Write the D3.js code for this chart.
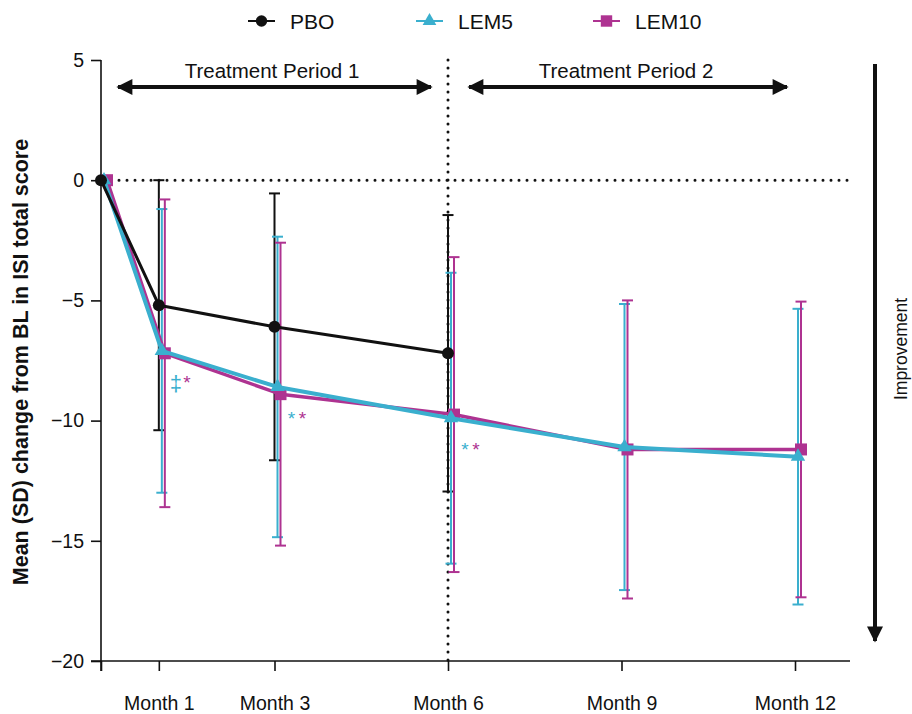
<!DOCTYPE html>
<html>
<head>
<meta charset="utf-8">
<script src="https://cdn.jsdelivr.net/npm/d3@7"></script>
<style>
  body { margin: 0; background: #fff; }
  svg { font-family: "Liberation Sans", Arial, sans-serif; }
</style>
</head>
<body>
<div id="chart"></div>
<script>
// months on the x axis (0 = baseline)
const months = [0, 1, 3, 6, 9, 12];
const monthLabels = ["", "Month 1", "Month 3", "Month 6", "Month 9", "Month 12"];
const yTicks = [5, 0, -5, -10, -15, -20];

// mean change and SD per group
const pboMonths = [0, 1, 3, 6];
const pboMean = [0, -5.2, -6.1, -7.2];
const pboSD = [0, 5.2, 5.55, 5.75];

const lem5Months = [0, 1, 3, 6, 9, 12];
const lem5Mean = [0, -7.1, -8.6, -9.9, -11.1, -11.5];
const lem5SD = [0, 5.9, 6.25, 6.05, 5.95, 6.15];

const lem10Months = [0, 1, 3, 6, 9, 12];
const lem10Mean = [0, -7.2, -8.9, -9.75, -11.2, -11.2];
const lem10SD = [0, 6.4, 6.3, 6.55, 6.2, 6.15];

// significance markers
const sigMonths = [1, 3, 6];
const sigLem5 = ["\u2021", "*", "*"];
const sigLem10 = ["*", "*", "*"];

const width = 912, height = 714;
const svg = d3.select('#chart').append('svg')
  .attr('width', width)
  .attr('height', height);

const x = d3.scaleLinear().domain([0, 12]).range([101, 795]);
const y = d3.scaleLinear().domain([-20, 5]).range([661, 60]);

const groups = [
  { name: 'PBO', months: pboMonths, mean: pboMean, sd: pboSD, color: '#111111', dx: 0, shape: 'circle', lw: 3 },
  { name: 'LEM5', months: lem5Months, mean: lem5Mean, sd: lem5SD, color: '#3AAFCE', dx: 3, shape: 'triangle', lw: 4 },
  { name: 'LEM10', months: lem10Months, mean: lem10Mean, sd: lem10SD, color: '#AE3391', dx: 6, shape: 'square', lw: 3.5 }
];

// axes
const yAxis = svg.append('g')
  .attr('transform', `translate(${x(0)},0)`)
  .call(d3.axisLeft(y).tickValues(yTicks).tickSize(10).tickSizeOuter(0).tickPadding(7));
yAxis.select('.domain').attr('d', `M0,${y(5)}V${y(-20) + 10}`);

const xAxis = svg.append('g')
  .attr('transform', `translate(0,${y(-20)})`)
  .call(d3.axisBottom(x).tickValues(months).tickFormat((d, i) => monthLabels[i])
    .tickSize(10).tickSizeOuter(0).tickPadding(25));
xAxis.select('.domain').attr('d', `M${x(0) - 10},0H850`);

svg.selectAll('.tick text').attr('font-size', 19.5).attr('fill', '#111')
  .attr('font-family', '"Liberation Sans", Arial, sans-serif');
svg.selectAll('.tick line, .domain').attr('stroke', '#111').attr('stroke-width', 1.6);

// reference lines
svg.append('line')
  .attr('x1', x(0) + 10).attr('x2', 850)
  .attr('y1', y(0)).attr('y2', y(0))
  .attr('stroke', '#111').attr('stroke-width', 3)
  .attr('stroke-linecap', 'round').attr('stroke-dasharray', '0 8');
svg.append('line')
  .attr('x1', x(6)).attr('x2', x(6))
  .attr('y1', y(5)).attr('y2', y(-20))
  .attr('stroke', '#111').attr('stroke-width', 3)
  .attr('stroke-linecap', 'round').attr('stroke-dasharray', '0 8');

// arrows
const defs = svg.append('defs');
defs.append('marker')
  .attr('id', 'head').attr('viewBox', '0 0 10 10')
  .attr('refX', 9).attr('refY', 5)
  .attr('markerWidth', 21).attr('markerHeight', 16)
  .attr('markerUnits', 'userSpaceOnUse')
  .attr('orient', 'auto-start-reverse')
  .append('path').attr('d', 'M0,0L10,5L0,10Z').attr('fill', '#111');

function arrow(x1, y1, x2, y2, both) {
  const l = svg.append('line')
    .attr('x1', x1).attr('y1', y1).attr('x2', x2).attr('y2', y2)
    .attr('stroke', '#111').attr('stroke-width', 4)
    .attr('marker-end', 'url(#head)');
  if (both) l.attr('marker-start', 'url(#head)');
}
arrow(118, 87, 431, 87, true);
arrow(469, 87, 787, 87, true);
arrow(875, 64, 875, 641, false);

svg.append('text').attr('x', 272).attr('y', 78).attr('text-anchor', 'middle')
  .attr('font-size', 20.5).attr('fill', '#111').text('Treatment Period 1');
svg.append('text').attr('x', 626).attr('y', 78).attr('text-anchor', 'middle')
  .attr('font-size', 20.5).attr('fill', '#111').text('Treatment Period 2');

svg.append('text')
  .attr('transform', `translate(907,${349}) rotate(-90)`)
  .attr('text-anchor', 'middle')
  .attr('font-size', 17.5).attr('fill', '#111').text('Improvement');

svg.append('text')
  .attr('transform', `translate(28,${362}) rotate(-90)`)
  .attr('text-anchor', 'middle')
  .attr('font-size', 21.5).attr('font-weight', 'bold').attr('fill', '#111')
  .text('Mean (SD) change from BL in ISI total score');

// markers
function drawMarker(g, shape, color, cx, cy, scale) {
  if (shape === 'circle') {
    g.append('circle').attr('cx', cx).attr('cy', cy).attr('r', 6 * scale).attr('fill', color);
  } else if (shape === 'triangle') {
    g.append('path').attr('d', d3.symbol().type(d3.symbolTriangle).size(90 * scale * scale)())
      .attr('transform', `translate(${cx},${cy})`).attr('fill', color);
  } else {
    const s = 12 * scale;
    g.append('rect').attr('x', cx - s / 2).attr('y', cy - s / 2)
      .attr('width', s).attr('height', s).attr('fill', color);
  }
}

// error bars
groups.forEach(gr => {
  const g = svg.append('g');
  gr.months.forEach((m, i) => {
    if (gr.sd[i] === 0) return;
    const cx = x(m) + gr.dx;
    const top = y(gr.mean[i] + gr.sd[i]);
    const bot = y(gr.mean[i] - gr.sd[i]);
    g.append('line').attr('x1', cx).attr('x2', cx).attr('y1', top).attr('y2', bot)
      .attr('stroke', gr.color).attr('stroke-width', 2);
    [top, bot].forEach(v => g.append('line')
      .attr('x1', cx - 5.5).attr('x2', cx + 5.5).attr('y1', v).attr('y2', v)
      .attr('stroke', gr.color).attr('stroke-width', 2));
  });
});

// lines and points (LEM10, LEM5 under PBO)
[groups[2], groups[1], groups[0]].forEach(gr => {
  const pts = gr.months.map((m, i) => [x(m) + gr.dx, y(gr.mean[i])]);
  const g = svg.append('g');
  g.append('path').attr('d', d3.line()(pts))
    .attr('fill', 'none').attr('stroke', gr.color).attr('stroke-width', gr.lw)
    .attr('stroke-linejoin', 'round');
  pts.forEach(p => drawMarker(g, gr.shape, gr.color, p[0], p[1], 1));
});

// significance symbols
sigMonths.forEach((m, i) => {
  const idx = lem5Months.indexOf(m);
  const yy = y(lem5Mean[idx]) + 38;
  const xx = x(m) + 17;
  const dagger = sigLem5[i] !== '*';
  svg.append('text').attr('x', xx).attr('y', dagger ? yy + 2 : yy).attr('font-size', dagger ? 22 : 19)
    .attr('text-anchor', 'middle').attr('fill', groups[1].color).text(sigLem5[i]);
  svg.append('text').attr('x', xx + 11).attr('y', yy).attr('font-size', 19)
    .attr('text-anchor', 'middle').attr('fill', groups[2].color).text(sigLem10[i]);
});

// legend
const legend = svg.append('g');
const legendX = [248, 416, 593];
groups.forEach((gr, i) => {
  const lx = legendX[i];
  legend.append('line').attr('x1', lx).attr('x2', lx + 27).attr('y1', 21).attr('y2', 21)
    .attr('stroke', gr.color).attr('stroke-width', 2);
  drawMarker(legend, gr.shape, gr.color, lx + 13.5, 21, 0.95);
  legend.append('text').attr('x', lx + 42).attr('y', 29)
    .attr('font-size', 21).attr('fill', '#111').text(gr.name);
});
</script>
</body>
</html>
